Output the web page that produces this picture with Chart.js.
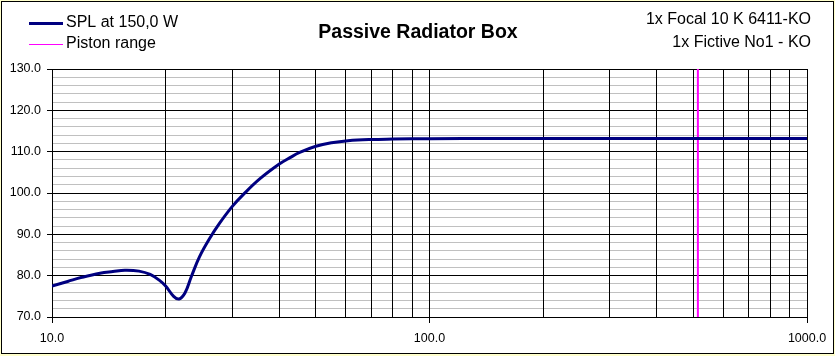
<!DOCTYPE html>
<html>
<head>
<meta charset="utf-8">
<script src="https://cdn.jsdelivr.net/npm/chart.js@4.4.1/dist/chart.umd.min.js"></script>
<style>
  html, body { margin: 0; padding: 0; background: #ffffcc; }
  #wrap { width: 835px; height: 356px; }
</style>
</head>
<body>
<div id="wrap"><canvas id="c" width="835" height="356"></canvas></div>
<script>
// ---- Data ----
const freqHz = [10, 11, 12, 13.4, 14.5, 15.6, 17, 18.2, 19.3, 20, 21, 21.7, 22.5, 23.4, 24.6, 26.2, 27.8, 30, 32.1, 35.5, 40, 42.7, 45.3, 50, 55, 60.8, 70, 80, 100, 150, 200, 300, 500, 1000];
const splDb  = [77.5, 78.6, 79.6, 80.6, 81.0, 81.3, 81.1, 80.3, 78.8, 77.5, 75.0, 74.35, 75.8, 79.8, 84.6, 89.1, 92.7, 96.7, 99.6, 103.4, 107.0, 108.55, 109.8, 111.3, 112.15, 112.65, 112.95, 113.05, 113.15, 113.2, 113.2, 113.2, 113.2, 113.2];
const pistonFreq = [514, 514];
const pistonDb   = [70, 130];
const seriesNames = ["SPL at 150,0 W", "Piston range"];
const titleText = "Passive Radiator Box";
const infoLines = ["1x Focal 10 K 6411-KO", "1x Fictive No1 - KO"];
const xMajorTicks = [10, 100, 1000];
const yRange = [70, 130];

const FONT = "'Liberation Sans', Arial, sans-serif";
const NAVY = "#000080";
const MAGENTA = "#ff00ff";

const framePlugin = {
  id: 'frame',
  beforeDraw(chart) {
    const ctx = chart.ctx;
    ctx.save();
    ctx.fillStyle = '#ffffcc';
    ctx.fillRect(0, 0, chart.width, chart.height);
    ctx.fillStyle = '#ffffff';
    ctx.fillRect(1, 1, 832, 352);
    ctx.strokeStyle = '#000000';
    ctx.lineWidth = 1;
    ctx.strokeRect(1.5, 1.5, 832, 352);
    ctx.restore();
  },
  afterDraw(chart) {
    const ctx = chart.ctx;
    ctx.save();
    ctx.fillStyle = '#000';
    ctx.font = "bold 19.5px " + FONT;
    ctx.textAlign = 'center';
    ctx.textBaseline = 'middle';
    ctx.fillText(titleText, 418, 33);
    ctx.font = "16px " + FONT;
    ctx.textAlign = 'left';
    ctx.strokeStyle = NAVY; ctx.lineWidth = 3;
    ctx.beginPath(); ctx.moveTo(29, 23.5); ctx.lineTo(63, 23.5); ctx.stroke();
    ctx.fillText(seriesNames[0], 66, 23);
    ctx.strokeStyle = MAGENTA; ctx.lineWidth = 1;
    ctx.beginPath(); ctx.moveTo(29, 44.5); ctx.lineTo(63, 44.5); ctx.stroke();
    ctx.fillText(seriesNames[1], 66, 44);
    ctx.textAlign = 'right';
    ctx.fillText(infoLines[0], 811, 20);
    ctx.fillText(infoLines[1], 811, 43);
    ctx.restore();
  }
};

new Chart(document.getElementById('c'), {
  type: 'line',
  data: {
    datasets: [
      {
        label: seriesNames[0],
        data: freqHz.map((f, i) => ({ x: f, y: splDb[i] })),
        borderColor: NAVY,
        borderWidth: 3,
        pointRadius: 0,
        fill: false,
        tension: 0.4
      },
      {
        label: seriesNames[1],
        data: pistonFreq.map((f, i) => ({ x: f, y: pistonDb[i] })),
        borderColor: MAGENTA,
        borderWidth: 2,
        pointRadius: 0,
        fill: false
      }
    ]
  },
  options: {
    responsive: false,
    animation: false,
    devicePixelRatio: 1,
    layout: { padding: { top: 69, right: 28, bottom: 0, left: 0 } },
    plugins: { legend: { display: false }, title: { display: false }, tooltip: { enabled: false } },
    scales: {
      x: {
        type: 'logarithmic',
        min: 10, max: 1000,
        afterFit(scale) { scale.height = 39; },
        afterBuildTicks(scale) {
          const t = [];
          for (let d = 10; d < 1000; d *= 10) for (let k = 1; k < 10; k++) t.push({ value: d * k });
          t.push({ value: 1000 });
          scale.ticks = t;
        },
        ticks: {
          autoSkip: false,
          maxRotation: 0,
          padding: 8,
          color: '#000',
          font: { family: FONT, size: 12.5 },
          callback: (v) => xMajorTicks.includes(Math.round(v)) ? Number(v).toFixed(1) : ''
        },
        grid: {
          z: -1,
          color: '#000',
          lineWidth: 1,
          tickLength: 6,
          tickColor: (c) => (c.tick && xMajorTicks.includes(Math.round(c.tick.value))) ? '#000' : 'rgba(0,0,0,0)'
        },
        border: { color: '#000', width: 1 }
      },
      y: {
        min: yRange[0], max: yRange[1],
        afterFit(scale) { scale.width = 52; },
        ticks: {
          stepSize: 2,
          autoSkip: false,
          padding: 6,
          color: '#000',
          font: { family: FONT, size: 12.5 },
          callback: (v) => (Math.round(v) % 10 === 0) ? Number(v).toFixed(1) : ''
        },
        grid: {
          z: -2,
          color: (c) => (c.tick && Math.round(c.tick.value) % 10 === 0) ? '#000' : '#c0c0c0',
          lineWidth: 1,
          tickLength: 5,
          tickColor: (c) => (c.tick && Math.round(c.tick.value) % 10 === 0) ? '#000' : 'rgba(0,0,0,0)'
        },
        border: { color: '#000', width: 1 }
      }
    }
  },
  plugins: [framePlugin]
});
</script>
</body>
</html>
